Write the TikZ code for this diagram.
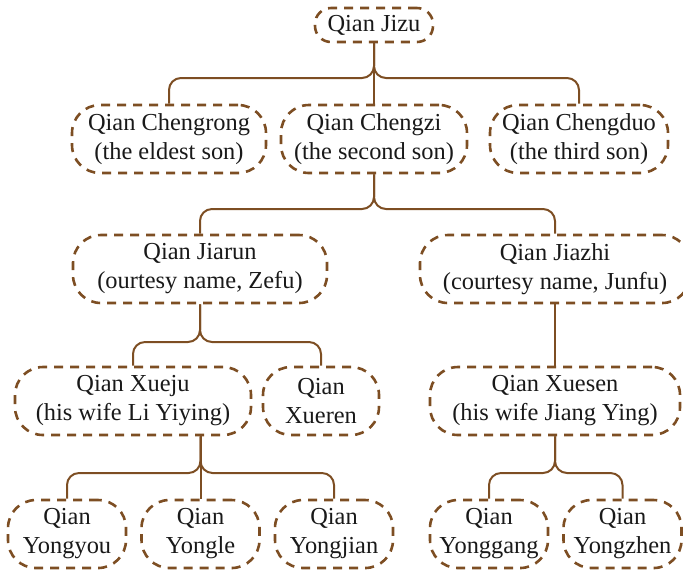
\documentclass[tikz,border=0pt]{standalone}
\usepackage{fontspec}
\setmainfont{Liberation Serif}
\definecolor{kin}{RGB}{125,78,35}

\tikzset{
  person/.style={draw=kin, dash pattern=on 4.5pt off 3.5pt, line width=1.3pt,
    rounded corners=14pt, align=center, minimum height=34pt, inner sep=2pt,
    font=\fontsize{12.2}{14.5}\selectfont, text=black!90},
  link/.style={draw=kin, line width=1pt, rounded corners=6pt}
}

\begin{document}
\begin{tikzpicture}[x=0.5pt, y=-0.5pt]
  \useasboundingbox (0,0) rectangle (683,570);

  % Generations
  \node[person, minimum width=59pt, minimum height=17pt, rounded corners=8pt] (jizu) at (374,25) {Qian Jizu};

  \node[person, minimum width=97pt] (chengrong) at (169,139) {Qian Chengrong\\(the eldest son)};
  \node[person, minimum width=93pt] (chengzi) at (374,139) {Qian Chengzi\\(the second son)};
  \node[person, minimum width=89pt] (chengduo) at (579,139) {Qian Chengduo\\(the third son)};

  \node[person, minimum width=127pt] (jiarun) at (200,269) {Qian Jiarun\\(ourtesy name, Zefu)};
  \node[person, minimum width=135pt] (jiazhi) at (555,269) {Qian Jiazhi\\(courtesy name, Junfu)};

  \node[person, minimum width=118pt] (xueju) at (133,401) {Qian Xueju\\(his wife Li Yiying)};
  \node[person, minimum width=58pt] (xueren) at (321,401) {Qian\\Xueren};
  \node[person, minimum width=125pt] (xuesen) at (555,401) {Qian Xuesen\\(his wife Jiang Ying)};

  \node[person, minimum width=59pt] (yongyou) at (67,534) {Qian\\Yongyou};
  \node[person, minimum width=59pt] (yongle) at (200.5,534) {Qian\\Yongle};
  \node[person, minimum width=59pt] (yongjian) at (334,534) {Qian\\Yongjian};
  \node[person, minimum width=59pt] (yonggang) at (489,534) {Qian\\Yonggang};
  \node[person, minimum width=59pt] (yongzhen) at (622.5,534) {Qian\\Yongzhen};

  % Branch points
  \coordinate (bar1) at (374,78);
  \coordinate (bar2) at (374,209);
  \coordinate (bar3) at (200,342);
  \coordinate (bar4) at (200.5,473);
  \coordinate (bar5) at (555,473);

  % Lines of descent
  \draw[link] (chengrong.north) -- (chengrong.north |- bar1) -- (bar1) -- (jizu.south);
  \draw[link] (chengduo.north) -- (chengduo.north |- bar1) -- (bar1) -- (jizu.south);
  \draw[link] (jizu.south) -- (chengzi.north);

  \draw[link] (jiarun.north) -- (jiarun.north |- bar2) -- (bar2) -- (chengzi.south);
  \draw[link] (jiazhi.north) -- (jiazhi.north |- bar2) -- (bar2) -- (chengzi.south);

  \draw[link] (xueju.north) -- (xueju.north |- bar3) -- (bar3) -- (jiarun.south);
  \draw[link] (xueren.north) -- (xueren.north |- bar3) -- (bar3) -- (jiarun.south);
  \draw[link] (jiazhi.south) -- (xuesen.north);

  \draw[link] (yongyou.north) -- (yongyou.north |- bar4) -- (bar4) -- (xueju.south -| bar4);
  \draw[link] (yongjian.north) -- (yongjian.north |- bar4) -- (bar4) -- (xueju.south -| bar4);
  \draw[link] (xueju.south -| bar4) -- (yongle.north);

  \draw[link] (yonggang.north) -- (yonggang.north |- bar5) -- (bar5) -- (xuesen.south);
  \draw[link] (yongzhen.north) -- (yongzhen.north |- bar5) -- (bar5) -- (xuesen.south);
\end{tikzpicture}
\end{document}
